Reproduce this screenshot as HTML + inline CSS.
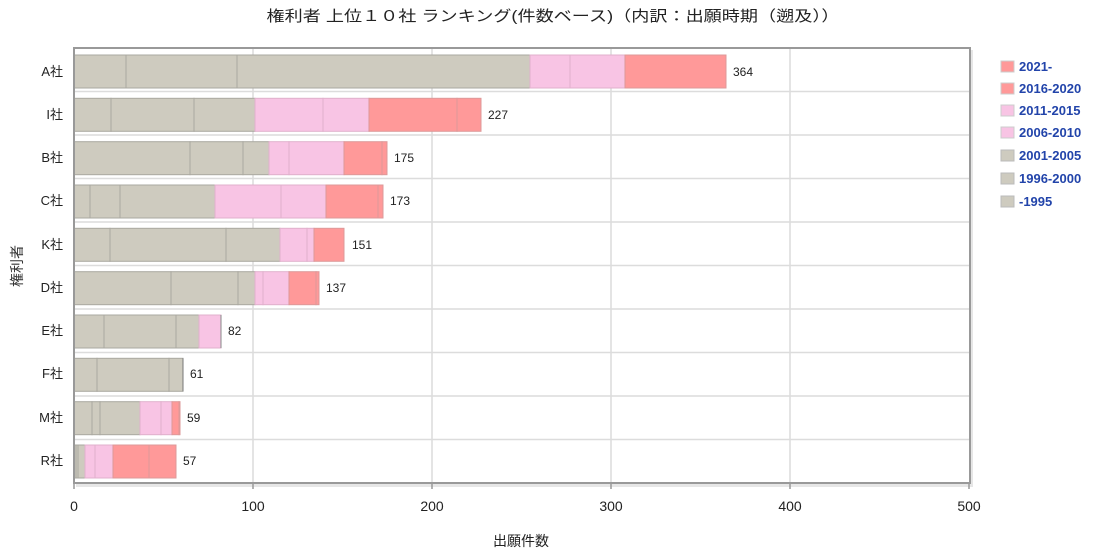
<!DOCTYPE html>
<html><head><meta charset="utf-8"><style>
body{margin:0;background:#fff;}
svg{display:block;font-family:"Liberation Sans","Noto Sans CJK JP",sans-serif;}
</style></head><body>
<svg width="1100" height="551" viewBox="0 0 1100 551" xmlns="http://www.w3.org/2000/svg">
<text x="553" y="21" font-size="15" text-anchor="middle" fill="#222" textLength="573" lengthAdjust="spacingAndGlyphs">権利者 上位１０社 ランキング(件数ベース)（内訳：出願時期（遡及））</text>
<!-- shadow -->
<rect x="76" y="50" width="897" height="437" fill="#e6e6e6"/>
<rect x="74" y="48" width="896" height="435" fill="#fff"/>
<!-- grid -->
<g stroke="#dcdcdc" stroke-width="1.5">
<line x1="253" y1="48" x2="253" y2="483"/><line x1="432" y1="48" x2="432" y2="483"/>
<line x1="611" y1="48" x2="611" y2="483"/><line x1="790" y1="48" x2="790" y2="483"/>
<line x1="74" y1="91.5" x2="970" y2="91.5"/><line x1="74" y1="135" x2="970" y2="135"/>
<line x1="74" y1="178.5" x2="970" y2="178.5"/><line x1="74" y1="222" x2="970" y2="222"/>
<line x1="74" y1="265.5" x2="970" y2="265.5"/><line x1="74" y1="309" x2="970" y2="309"/>
<line x1="74" y1="352.5" x2="970" y2="352.5"/><line x1="74" y1="396" x2="970" y2="396"/>
<line x1="74" y1="439.5" x2="970" y2="439.5"/>
</g>
<g stroke="#aaa8a0" stroke-width="1">
<!-- A y55 -->
<rect x="74" y="55" width="52" height="33" fill="#cecbbf"/><rect x="126" y="55" width="111" height="33" fill="#cecbbf"/><rect x="237" y="55" width="293" height="33" fill="#cecbbf"/>
<rect x="530" y="55" width="40" height="33" fill="#f8c4e4" stroke="#e0b0cc"/><rect x="570" y="55" width="55" height="33" fill="#f8c4e4" stroke="#e0b0cc"/><rect x="625" y="55" width="101" height="33" fill="#ff9999" stroke="#d99"/>
<!-- I y98.3 -->
<rect x="74" y="98.3" width="37" height="33" fill="#cecbbf"/><rect x="111" y="98.3" width="83" height="33" fill="#cecbbf"/><rect x="194" y="98.3" width="61" height="33" fill="#cecbbf"/>
<rect x="255" y="98.3" width="68" height="33" fill="#f8c4e4" stroke="#e0b0cc"/><rect x="323" y="98.3" width="46" height="33" fill="#f8c4e4" stroke="#e0b0cc"/><rect x="369" y="98.3" width="88" height="33" fill="#ff9999" stroke="#d99"/><rect x="457" y="98.3" width="24" height="33" fill="#ff9999" stroke="#d99"/>
<!-- B y141.7 -->
<rect x="74" y="141.7" width="116" height="33" fill="#cecbbf"/><rect x="190" y="141.7" width="53" height="33" fill="#cecbbf"/><rect x="243" y="141.7" width="26" height="33" fill="#cecbbf"/>
<rect x="269" y="141.7" width="20" height="33" fill="#f8c4e4" stroke="#e0b0cc"/><rect x="289" y="141.7" width="55" height="33" fill="#f8c4e4" stroke="#e0b0cc"/><rect x="344" y="141.7" width="38" height="33" fill="#ff9999" stroke="#d99"/><rect x="382" y="141.7" width="5" height="33" fill="#ff9999" stroke="#d99"/>
<!-- C y185 -->
<rect x="74" y="185" width="16" height="33" fill="#cecbbf"/><rect x="90" y="185" width="30" height="33" fill="#cecbbf"/><rect x="120" y="185" width="95" height="33" fill="#cecbbf"/>
<rect x="215" y="185" width="66" height="33" fill="#f8c4e4" stroke="#e0b0cc"/><rect x="281" y="185" width="45" height="33" fill="#f8c4e4" stroke="#e0b0cc"/><rect x="326" y="185" width="52" height="33" fill="#ff9999" stroke="#d99"/><rect x="378" y="185" width="5" height="33" fill="#ff9999" stroke="#d99"/>
<!-- K y228.3 -->
<rect x="74" y="228.3" width="36" height="33" fill="#cecbbf"/><rect x="110" y="228.3" width="116" height="33" fill="#cecbbf"/><rect x="226" y="228.3" width="54" height="33" fill="#cecbbf"/>
<rect x="280" y="228.3" width="27" height="33" fill="#f8c4e4" stroke="#e0b0cc"/><rect x="307" y="228.3" width="7" height="33" fill="#f8c4e4" stroke="#e0b0cc"/><rect x="314" y="228.3" width="30" height="33" fill="#ff9999" stroke="#d99"/>
<!-- D y271.7 -->
<rect x="74" y="271.7" width="97" height="33" fill="#cecbbf"/><rect x="171" y="271.7" width="67" height="33" fill="#cecbbf"/><rect x="238" y="271.7" width="17" height="33" fill="#cecbbf"/>
<rect x="255" y="271.7" width="8" height="33" fill="#f8c4e4" stroke="#e0b0cc"/><rect x="263" y="271.7" width="26" height="33" fill="#f8c4e4" stroke="#e0b0cc"/><rect x="289" y="271.7" width="27" height="33" fill="#ff9999" stroke="#d99"/><rect x="316" y="271.7" width="3" height="33" fill="#ff9999" stroke="#d99"/>
<!-- E y315 -->
<rect x="74" y="315" width="30" height="33" fill="#cecbbf"/><rect x="104" y="315" width="72" height="33" fill="#cecbbf"/><rect x="176" y="315" width="23" height="33" fill="#cecbbf"/>
<rect x="199" y="315" width="22" height="33" fill="#f8c4e4" stroke="#e0b0cc"/><line x1="221" y1="315" x2="221" y2="348" stroke="#888"/>
<!-- F y358.3 -->
<rect x="74" y="358.3" width="23" height="33" fill="#cecbbf"/><rect x="97" y="358.3" width="72" height="33" fill="#cecbbf"/><rect x="169" y="358.3" width="14" height="33" fill="#cecbbf"/><line x1="183" y1="358.3" x2="183" y2="391.3" stroke="#777"/>
<!-- M y401.7 -->
<rect x="74" y="401.7" width="18" height="33" fill="#cecbbf"/><rect x="92" y="401.7" width="8" height="33" fill="#cecbbf"/><rect x="100" y="401.7" width="40" height="33" fill="#cecbbf"/>
<rect x="140" y="401.7" width="21" height="33" fill="#f8c4e4" stroke="#e0b0cc"/><rect x="161" y="401.7" width="11" height="33" fill="#f8c4e4" stroke="#e0b0cc"/><rect x="172" y="401.7" width="7" height="33" fill="#ff9999" stroke="#d99"/><rect x="179" y="401.7" width="1" height="33" fill="#ff9999" stroke="#d99"/>
<!-- R y445 -->
<rect x="74" y="445" width="2" height="33" fill="#cecbbf"/><rect x="76" y="445" width="2" height="33" fill="#cecbbf"/><rect x="78" y="445" width="7" height="33" fill="#cecbbf"/>
<rect x="85" y="445" width="10" height="33" fill="#f8c4e4" stroke="#e0b0cc"/><rect x="95" y="445" width="18" height="33" fill="#f8c4e4" stroke="#e0b0cc"/><rect x="113" y="445" width="36" height="33" fill="#ff9999" stroke="#d99"/><rect x="149" y="445" width="27" height="33" fill="#ff9999" stroke="#d99"/>
</g>
<!-- frame -->
<rect x="74" y="48" width="896" height="435" fill="none" stroke="#999" stroke-width="2"/>
<g stroke="#999" stroke-width="1.5">
<line x1="74" y1="483" x2="74" y2="489"/><line x1="253" y1="483" x2="253" y2="489"/><line x1="432" y1="483" x2="432" y2="489"/><line x1="611" y1="483" x2="611" y2="489"/><line x1="790" y1="483" x2="790" y2="489"/><line x1="969" y1="483" x2="969" y2="489"/>
</g>
<!-- value labels -->
<g font-size="12" fill="#222">
<text x="733" y="76">364</text><text x="488" y="119">227</text><text x="394" y="162">175</text><text x="390" y="205">173</text>
<text x="352" y="249">151</text><text x="326" y="292">137</text><text x="228" y="335">82</text><text x="190" y="378">61</text>
<text x="187" y="422">59</text><text x="183" y="465">57</text>
</g>
<!-- category labels -->
<g font-size="13" fill="#222" text-anchor="end">
<text x="63" y="76">A社</text><text x="63" y="119">I社</text><text x="63" y="162">B社</text><text x="63" y="205">C社</text>
<text x="63" y="249">K社</text><text x="63" y="292">D社</text><text x="63" y="335">E社</text><text x="63" y="378">F社</text>
<text x="63" y="422">M社</text><text x="63" y="465">R社</text>
</g>
<!-- x ticks -->
<g font-size="14" fill="#222" text-anchor="middle">
<text x="74" y="511">0</text><text x="253" y="511">100</text><text x="432" y="511">200</text><text x="611" y="511">300</text><text x="790" y="511">400</text><text x="969" y="511">500</text>
</g>
<text x="521" y="546" font-size="14" fill="#222" text-anchor="middle">出願件数</text>
<text transform="translate(22,266) rotate(-90)" font-size="14" fill="#333" text-anchor="middle">権利者</text>
<!-- legend -->
<g font-size="13" font-weight="bold" fill="#2244aa" stroke-width="1">
<rect x="1001" y="61" width="13" height="11" fill="#ff9999" stroke="#ccc"/><text x="1019" y="71">2021-</text>
<rect x="1001" y="83" width="13" height="11" fill="#ff9999" stroke="#ccc"/><text x="1019" y="93">2016-2020</text>
<rect x="1001" y="105" width="13" height="11" fill="#f8c4e4" stroke="#ccc"/><text x="1019" y="115">2011-2015</text>
<rect x="1001" y="127" width="13" height="11" fill="#f8c4e4" stroke="#ccc"/><text x="1019" y="137">2006-2010</text>
<rect x="1001" y="150" width="13" height="11" fill="#cecbbf" stroke="#bbb"/><text x="1019" y="160">2001-2005</text>
<rect x="1001" y="173" width="13" height="11" fill="#cecbbf" stroke="#bbb"/><text x="1019" y="183">1996-2000</text>
<rect x="1001" y="196" width="13" height="11" fill="#cecbbf" stroke="#bbb"/><text x="1019" y="206">-1995</text>
</g>
</svg>
</body></html>
